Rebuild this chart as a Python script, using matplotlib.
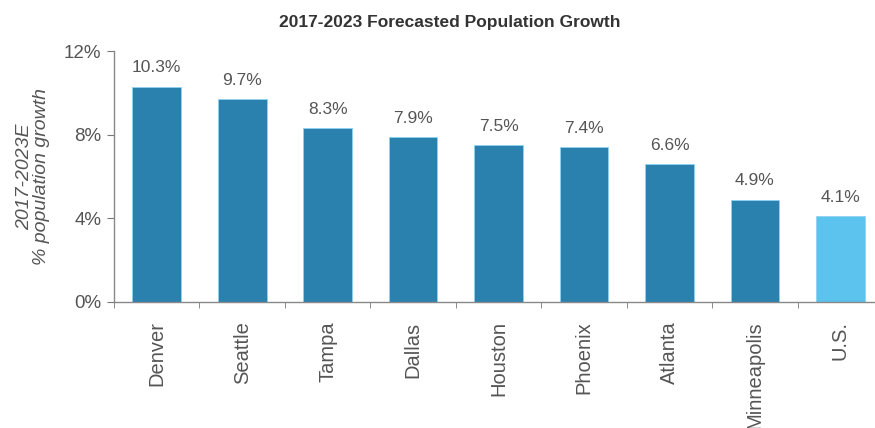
import matplotlib
matplotlib.use("Agg")
import matplotlib.pyplot as plt
import numpy as np

categories = ["Denver", "Seattle", "Tampa", "Dallas", "Houston", "Phoenix", "Atlanta", "Minneapolis", "U.S."]
values = [10.3, 9.7, 8.3, 7.9, 7.5, 7.4, 6.6, 4.9, 4.1]
value_labels = ["10.3%", "9.7%", "8.3%", "7.9%", "7.5%", "7.4%", "6.6%", "4.9%", "4.1%"]
ytick_vals = [0, 4, 8, 12]
ytick_labels = ["0%", "4%", "8%", "12%"]

plt.rcParams["font.family"] = ["Liberation Sans", "DejaVu Sans"]

dark = "#2b81ad"
light = "#5cc3ef"
gray = "#555555"
colors = [dark] * 8 + [light]

fig = plt.figure(figsize=(8.75, 4.28), dpi=100)
ax = fig.add_axes([0.1303, 0.2944, 0.879, 0.5864])

x = np.arange(len(categories))
ax.bar(x, values, width=0.57, color=colors, edgecolor="#8fd3f0", linewidth=0.6, zorder=2)

for xi, v, lab in zip(x, values, value_labels):
    ax.annotate(lab, (xi, v), xytext=(0, 8), textcoords="offset points",
                ha="center", va="bottom", fontsize=12.5, color=gray)

ax.set_xlim(-0.5, len(categories) - 0.5)
ax.set_ylim(0, 12)
ax.set_yticks(ytick_vals)
ax.set_yticklabels(ytick_labels, fontsize=13.5, color=gray)
ax.set_xticks(x)
ax.set_xticklabels(categories, rotation=90, fontsize=14.5, color=gray)
ax.tick_params(axis="x", length=0, pad=14)
ax.set_xticks(np.arange(len(categories) + 1) - 0.5, minor=True)
ax.tick_params(axis="x", which="minor", length=4, color="#777777", direction="out")
ax.tick_params(axis="y", length=5, color="#777777", direction="out", pad=4)

for s in ["top", "right"]:
    ax.spines[s].set_visible(False)
for s in ["left", "bottom"]:
    ax.spines[s].set_color("#888888")
    ax.spines[s].set_linewidth(1.0)

ax.set_ylabel("2017-2023E\n% population growth", fontsize=14, color=gray,
              style="italic", labelpad=10, linespacing=1.0)

fig.text(0.514, 0.948, "2017-2023 Forecasted Population Growth", ha="center", va="center",
         fontsize=12.5, fontweight="bold", color="#333333")

fig.savefig("out.png", dpi=100)
